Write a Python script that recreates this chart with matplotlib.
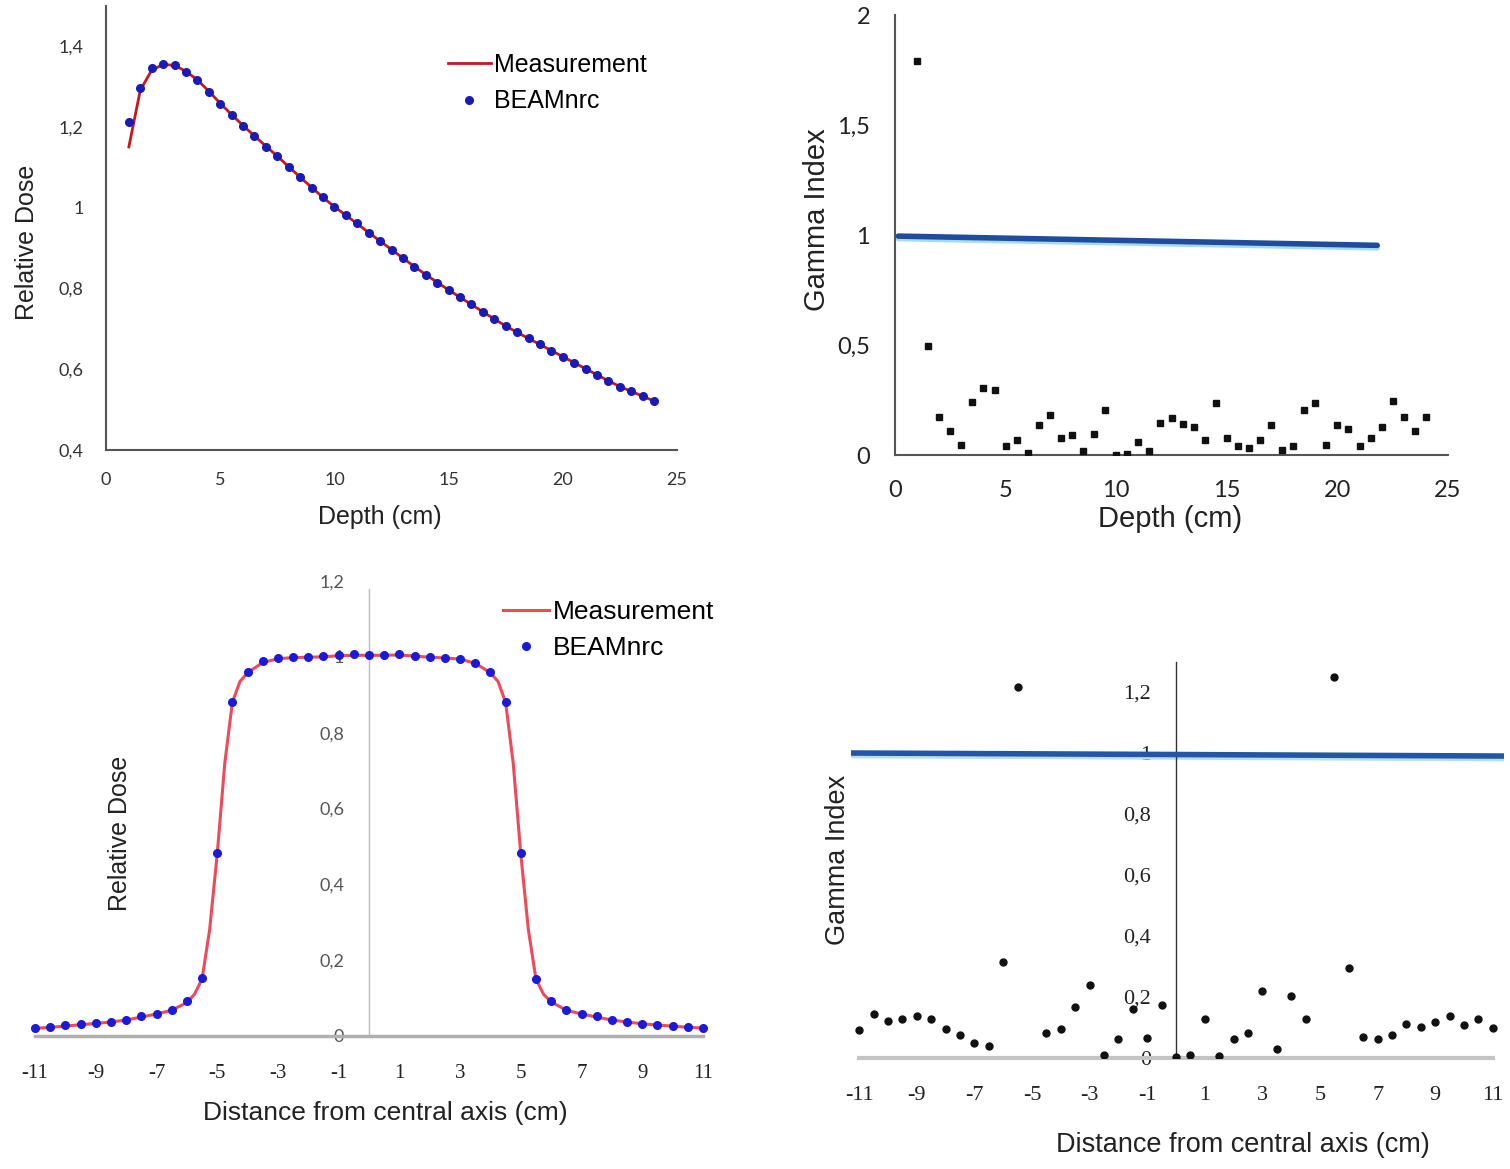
import matplotlib
matplotlib.use("Agg")
import matplotlib.pyplot as plt
import matplotlib.transforms as mtransforms
from matplotlib.ticker import FuncFormatter
import numpy as np

plt.rcParams['font.family'] = ['Liberation Sans', 'DejaVu Sans']

# --- depth dose (top left) ---
depth = np.arange(1.0, 24.5, 0.5)
pdd_beam = [1.211, 1.296, 1.345, 1.356, 1.353, 1.336, 1.315, 1.287, 1.257, 1.229,
            1.202, 1.176, 1.151, 1.127, 1.100, 1.075, 1.049, 1.025, 1.002, 0.981,
            0.961, 0.938, 0.917, 0.896, 0.875, 0.854, 0.834, 0.814, 0.796, 0.778,
            0.761, 0.742, 0.725, 0.706, 0.692, 0.677, 0.662, 0.646, 0.631, 0.615,
            0.600, 0.586, 0.570, 0.557, 0.545, 0.534, 0.521]
pdd_meas = [1.150, 1.290, 1.340, 1.354, 1.352, 1.337, 1.316, 1.288, 1.258, 1.230,
            1.203, 1.177, 1.152, 1.127, 1.101, 1.075, 1.050, 1.025, 1.002, 0.981,
            0.960, 0.938, 0.917, 0.896, 0.875, 0.854, 0.834, 0.815, 0.796, 0.778,
            0.760, 0.742, 0.724, 0.707, 0.691, 0.676, 0.661, 0.646, 0.631, 0.616,
            0.601, 0.586, 0.571, 0.557, 0.545, 0.533, 0.521]

# --- gamma index for depth dose (top right) ---
gamma_pdd = [1.793, 0.494, 0.173, 0.110, 0.047, 0.243, 0.303, 0.294, 0.039, 0.066,
             0.011, 0.138, 0.184, 0.078, 0.089, 0.019, 0.097, 0.204, 0.000, 0.003,
             0.058, 0.016, 0.146, 0.168, 0.141, 0.129, 0.066, 0.235, 0.078, 0.039,
             0.031, 0.066, 0.138, 0.024, 0.039, 0.204, 0.235, 0.047, 0.137, 0.118,
             0.039, 0.078, 0.126, 0.246, 0.173, 0.107, 0.173]
pdd_limit_x = [0.15, 21.8]
pdd_limit_y = [0.995, 0.953]

# --- lateral profile (bottom left) ---
prof_x = np.arange(-11.0, 11.5, 0.5)
prof_beam = [0.022, 0.025, 0.028, 0.031, 0.034, 0.038, 0.042, 0.052, 0.059, 0.068,
             0.091, 0.154, 0.482, 0.882, 0.960, 0.989, 0.997, 0.999, 0.999, 1.001,
             1.004, 1.007, 1.004, 1.004, 1.007, 1.002, 0.999, 0.997, 0.995, 0.984,
             0.960, 0.882, 0.482, 0.150, 0.091, 0.069, 0.058, 0.052, 0.041, 0.037,
             0.032, 0.029, 0.027, 0.025, 0.022]
meas_x = [-11, -10.5, -10, -9.5, -9, -8.5, -8, -7.5, -7, -6.5, -6, -5.75, -5.5, -5.25,
          -5, -4.75, -4.5, -4.25, -4, -3.5, -3, -2.5, -2, -1.5, -1, -0.5, 0, 0.5, 1,
          1.5, 2, 2.5, 3, 3.5, 4, 4.25, 4.5, 4.75, 5, 5.25, 5.5, 5.75, 6, 6.5, 7,
          7.5, 8, 8.5, 9, 9.5, 10, 10.5, 11]
meas_y = [0.020, 0.023, 0.026, 0.030, 0.033, 0.037, 0.042, 0.050, 0.058, 0.068, 0.088,
          0.110, 0.150, 0.280, 0.480, 0.720, 0.880, 0.935, 0.958, 0.985, 0.995, 0.998,
          0.999, 1.000, 1.003, 1.004, 1.004, 1.004, 1.005, 1.002, 0.999, 0.997, 0.994,
          0.983, 0.958, 0.935, 0.880, 0.720, 0.480, 0.280, 0.150, 0.110, 0.090, 0.068,
          0.058, 0.050, 0.042, 0.037, 0.032, 0.029, 0.026, 0.023, 0.021]

# --- gamma index for profile (bottom right) ---
gprof_x = [-11, -10.5, -10, -9.5, -9, -8.5, -8, -7.5, -7, -6.5, -6, -5.5, -4.5, -4,
           -3.5, -3, -2.5, -2, -1.5, -1, -0.5, 0, 0.5, 1, 1.5, 2, 2.5, 3, 3.5, 4,
           4.5, 5.5, 6, 6.5, 7, 7.5, 8, 8.5, 9, 9.5, 10, 10.5, 11]
gprof_y = [0.091, 0.144, 0.122, 0.129, 0.138, 0.127, 0.094, 0.075, 0.050, 0.039,
           0.315, 1.215, 0.083, 0.094, 0.166, 0.238, 0.011, 0.061, 0.160, 0.066,
           0.173, 0.003, 0.011, 0.127, 0.006, 0.061, 0.081, 0.221, 0.028, 0.202,
           0.127, 1.249, 0.295, 0.070, 0.061, 0.075, 0.110, 0.102, 0.118, 0.138,
           0.108, 0.127, 0.099]
prof_limit_x = [-11.3, 11.4]
prof_limit_y = [1.0, 0.99]

sym_ticks = [-11, -9, -7, -5, -3, -1, 1, 3, 5, 7, 9, 11]
sym_labels = ['-11', '-9', '-7', '-5', '-3', '-1', '1', '3', '5', '7', '9', '11']

comma = FuncFormatter(lambda v, p: ('%g' % round(v, 2)).replace('.', ','))

fig = plt.figure(figsize=(15.1, 11.69), dpi=100)
W, H = 1510.0, 1169.0


def place(x0, y_top, w, h):
    return fig.add_axes([x0 / W, 1 - (y_top + h) / H, w / W, h / H])


def thick_line(ax, x, y, main, light):
    off = mtransforms.offset_copy(ax.transData, fig=fig, x=0, y=-2.5, units='dots')
    ax.plot(x, y, color=light, lw=4, transform=off, solid_capstyle='round', zorder=2)
    ax.plot(x, y, color=main, lw=4, solid_capstyle='round', zorder=3)


# top left
ax1 = place(106, 5.5, 571, 444.5)
ax1.plot(depth, pdd_meas, color='#c8161d', lw=2, label='Measurement', zorder=2)
ax1.plot(depth, pdd_beam, ls='none', marker='o', ms=5.5, color='#1a1ab8', label='BEAMnrc', zorder=3)
ax1.set_xlim(0, 25)
ax1.set_ylim(0.4, 1.5)
ax1.set_xticks([0, 5, 10, 15, 20, 25])
ax1.set_yticks([0.4, 0.6, 0.8, 1.0, 1.2, 1.4])
ax1.yaxis.set_major_formatter(comma)
ax1.tick_params(length=0, pad=16, labelsize=13, labelcolor='#333333')
for lab in ax1.get_xticklabels() + ax1.get_yticklabels():
    lab.set_family('Lato')
for s in ['top', 'right']:
    ax1.spines[s].set_visible(False)
for s in ['left', 'bottom']:
    ax1.spines[s].set_color('#555555')
    ax1.spines[s].set_linewidth(1.5)
ax1.set_xlabel('Depth (cm)', fontsize=18, color='#222222')
ax1.set_ylabel('Relative Dose', fontsize=18, color='#222222')
ax1.xaxis.label.set_va('center')
ax1.yaxis.label.set_va('center')
ax1.xaxis.set_label_coords(0.480, -0.151)
ax1.yaxis.set_label_coords(-0.138, 0.466)
ax1.legend(loc='upper left', bbox_to_anchor=(448 / W, 1 - 53 / H), bbox_transform=fig.transFigure,
           frameon=False, fontsize=18, handlelength=1.7, handletextpad=0.15, labelspacing=0.5,
           borderpad=0, borderaxespad=0)

# top right
ax2 = place(895, 15, 553, 440)
thick_line(ax2, pdd_limit_x, pdd_limit_y, '#1f4c9c', '#a6dcea')
ax2.plot(depth, gamma_pdd, ls='none', marker='s', ms=4.5, color='#111111', zorder=4)
ax2.set_xlim(0, 25)
ax2.set_ylim(0, 2.0)
ax2.set_xticks([0, 5, 10, 15, 20, 25])
ax2.set_yticks([0, 0.5, 1.0, 1.5, 2.0])
ax2.yaxis.set_major_formatter(comma)
ax2.tick_params(length=0, pad=18, labelsize=17, labelcolor='#222222')
for lab in ax2.get_xticklabels() + ax2.get_yticklabels():
    lab.set_family('Lato')
for s in ['top', 'right']:
    ax2.spines[s].set_visible(False)
for s in ['left', 'bottom']:
    ax2.spines[s].set_color('#555555')
    ax2.spines[s].set_linewidth(1.5)
ax2.set_xlabel('Depth (cm)', fontsize=21, color='#222222')
ax2.set_ylabel('Gamma Index', fontsize=21, color='#222222')
ax2.xaxis.label.set_va('center')
ax2.yaxis.label.set_va('center')
ax2.xaxis.set_label_coords(0.497, -0.145)
ax2.yaxis.set_label_coords(-0.141, 0.534)

# bottom left
ax3 = place(29, 581, 680, 455)
ax3.plot(meas_x, meas_y, color='#ef4a5a', lw=2.2, label='Measurement', zorder=2)
ax3.plot(prof_x, prof_beam, ls='none', marker='o', ms=5.5, color='#1a1ad8', label='BEAMnrc', zorder=3)
ax3.set_xlim(-11.2, 11.2)
ax3.set_ylim(0, 1.2)
ax3.spines['left'].set_position(('data', 0))
ax3.spines['left'].set_bounds(0, 1.18)
ax3.spines['bottom'].set_bounds(-11, 11)
ax3.spines['left'].set_color('#bbbbbb')
ax3.spines['left'].set_linewidth(1.0)
ax3.spines['bottom'].set_color('#b0b0b0')
ax3.spines['bottom'].set_linewidth(2.5)
for s in ['top', 'right']:
    ax3.spines[s].set_visible(False)
ax3.set_xticks(sym_ticks)
ax3.set_xticklabels(sym_labels)
ax3.set_yticks([0, 0.2, 0.4, 0.6, 0.8, 1.0, 1.2])
ax3.yaxis.set_major_formatter(comma)
ax3.tick_params(axis='x', length=0, pad=20, labelsize=15, labelcolor='#222222')
ax3.tick_params(axis='y', length=0, pad=18, labelsize=13, labelcolor='#555555')
for lab in ax3.get_xticklabels():
    lab.set_family('Liberation Serif')
for lab in ax3.get_yticklabels():
    lab.set_family('Lato')
ax3.set_xlabel('Distance from central axis (cm)', fontsize=19, color='#222222')
ax3.set_ylabel('Relative Dose', fontsize=18, color='#222222')
ax3.xaxis.label.set_va('center')
ax3.yaxis.label.set_va('center')
ax3.xaxis.set_label_coords(0.5235, -0.169)
ax3.yaxis.set_label_coords(0.134, 0.446)
ax3.legend(loc='upper left', bbox_to_anchor=(503 / W, 1 - 600 / H), bbox_transform=fig.transFigure,
           frameon=False, fontsize=19, handlelength=1.75, handletextpad=0.15, labelspacing=0.45,
           borderpad=0, borderaxespad=0)

# bottom right
ax4 = place(850.6, 661.5, 653.8, 396.5)
thick_line(ax4, prof_limit_x, prof_limit_y, '#2256a6', '#b8dfe6')
ax4.plot(gprof_x, gprof_y, ls='none', marker='o', ms=5, color='#111111', zorder=4)
ax4.set_xlim(-11.3, 11.4)
ax4.set_ylim(0, 1.3)
ax4.spines['left'].set_position(('data', 0))
ax4.spines['left'].set_color('#333333')
ax4.spines['left'].set_linewidth(1.0)
ax4.spines['bottom'].set_bounds(-11, 11)
ax4.spines['bottom'].set_color('#c4c4c4')
ax4.spines['bottom'].set_linewidth(3)
for s in ['top', 'right']:
    ax4.spines[s].set_visible(False)
ax4.set_xticks(sym_ticks)
ax4.set_xticklabels(sym_labels)
ax4.set_yticks([0, 0.2, 0.4, 0.6, 0.8, 1.0, 1.2])
ax4.yaxis.set_major_formatter(comma)
ax4.tick_params(axis='x', length=0, pad=20, labelsize=16, labelcolor='#222222')
ax4.tick_params(axis='y', length=0, pad=18, labelsize=16, labelcolor='#222222')
for lab in ax4.get_xticklabels() + ax4.get_yticklabels():
    lab.set_family('Liberation Serif')
ax4.set_xlabel('Distance from central axis (cm)', fontsize=19.5, color='#222222')
ax4.set_ylabel('Gamma Index', fontsize=19.5, color='#222222')
ax4.xaxis.label.set_va('center')
ax4.yaxis.label.set_va('center')
ax4.xaxis.set_label_coords(0.600, -0.219)
ax4.yaxis.set_label_coords(-0.019, 0.499)

fig.savefig('out.png', dpi=100, facecolor='white')
